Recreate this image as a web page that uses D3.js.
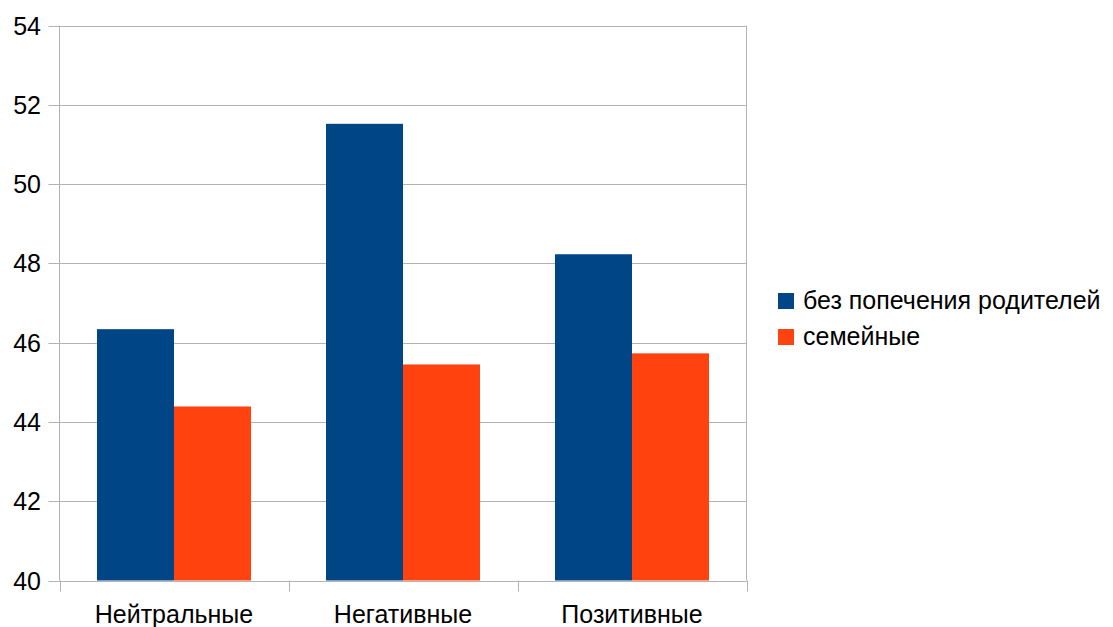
<!DOCTYPE html>
<html>
<head>
<meta charset="utf-8">
<script src="https://cdn.jsdelivr.net/npm/d3@7"></script>
<style>
  body { margin: 0; background: #fff; }
  svg { display: block; font-family: "Liberation Sans", Arial, sans-serif; }
</style>
</head>
<body>
<svg id="chart" width="1113" height="627"></svg>
<script>
// Categories and series values
const categories = ["Нейтральные", "Негативные", "Позитивные"];
const seriesNames = ["без попечения родителей", "семейные"];
const orphanValues = [46.34, 51.52, 48.23];
const familyValues = [44.39, 45.45, 45.73];
const yTicks = [40, 42, 44, 46, 48, 50, 52, 54];
const colors = ["#004586", "#ff420e"];

(function () {
  const series = [orphanValues, familyValues];

  const svg = d3.select("#chart");
  const plotLeft = 59.5, plotRight = 746.5, plotTop = 25.5, plotBottom = 580.5;
  const fontSize = 25;

  const x = d3.scaleBand().domain(categories).range([plotLeft, plotRight]).paddingInner(0).paddingOuter(0);
  const xInner = d3.scaleBand().domain(d3.range(seriesNames.length))
    .range([0, x.bandwidth()]).paddingOuter(0.487).paddingInner(0);
  const y = d3.scaleLinear().domain([40, 54]).range([plotBottom, plotTop]);

  const grid = "#b3b3b3";

  // Horizontal gridlines with short ticks to the left
  svg.append("g").selectAll("line").data(yTicks).join("line")
    .attr("x1", plotLeft - 11).attr("x2", plotRight)
    .attr("y1", d => Math.round(y(d)) + 0.5).attr("y2", d => Math.round(y(d)) + 0.5)
    .attr("stroke", grid).attr("stroke-width", 1);

  // Bars
  categories.forEach((c, i) => {
    series.forEach((vals, s) => {
      svg.append("rect")
        .attr("x", x(c) + xInner(s))
        .attr("width", xInner.bandwidth())
        .attr("y", y(vals[i]))
        .attr("height", y(40) - y(vals[i]))
        .attr("fill", colors[s]);
    });
  });

  // Plot frame: left axis, right border, bottom axis
  svg.append("line").attr("x1", plotLeft).attr("x2", plotLeft).attr("y1", plotTop).attr("y2", plotBottom)
    .attr("stroke", grid);
  svg.append("line").attr("x1", plotRight).attr("x2", plotRight).attr("y1", plotTop).attr("y2", plotBottom)
    .attr("stroke", grid);
  svg.append("line").attr("x1", plotLeft).attr("x2", plotRight)
    .attr("y1", Math.round(y(40)) + 0.5).attr("y2", Math.round(y(40)) + 0.5)
    .attr("stroke", grid);

  // Category separator ticks below the axis
  const bounds = categories.map(c => x(c)).concat([plotRight]);
  svg.append("g").selectAll("line").data(bounds).join("line")
    .attr("x1", d => Math.round(d) + 0.5).attr("x2", d => Math.round(d) + 0.5)
    .attr("y1", plotBottom).attr("y2", plotBottom + 11)
    .attr("stroke", grid);

  // Y tick labels
  svg.append("g").selectAll("text").data(yTicks).join("text")
    .attr("x", 41).attr("y", d => y(d) + 9)
    .attr("text-anchor", "end")
    .attr("font-size", fontSize).attr("fill", "#000")
    .text(d => d);

  // Category labels
  svg.append("g").selectAll("text").data(categories).join("text")
    .attr("x", d => x(d) + x.bandwidth() / 2).attr("y", 623)
    .attr("text-anchor", "middle")
    .attr("font-size", fontSize).attr("fill", "#000")
    .text(d => d);

  // Legend
  const legend = svg.append("g");
  seriesNames.forEach((name, i) => {
    const ly = 293 + i * 36;
    legend.append("rect").attr("x", 778).attr("y", ly).attr("width", 16).attr("height", 16)
      .attr("fill", colors[i]);
    legend.append("text").attr("x", 803).attr("y", ly + 16)
      .attr("font-size", fontSize).attr("fill", "#000").text(name);
  });
})();
</script>
</body>
</html>
